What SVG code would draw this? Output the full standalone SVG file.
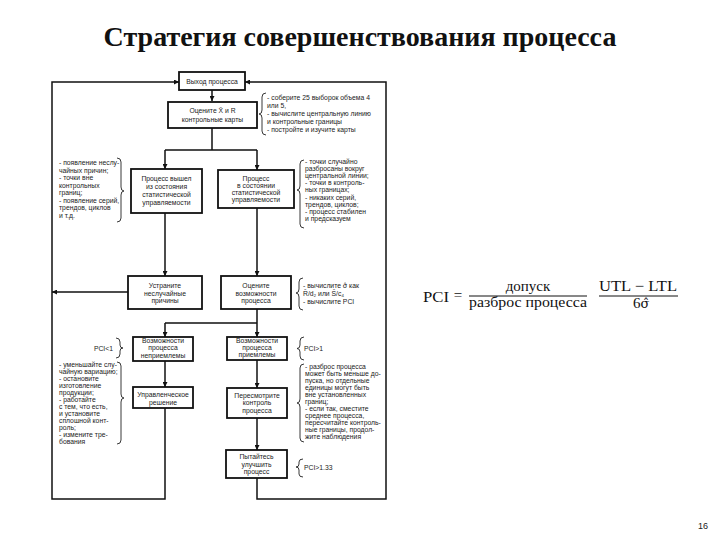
<svg xmlns="http://www.w3.org/2000/svg" width="720" height="540" viewBox="0 0 720 540">
<style>
.box{fill:#fff;stroke:#111;stroke-width:1.8}
.ln{fill:none;stroke:#111;stroke-width:1.5}
.br{fill:none;stroke:#222;stroke-width:0.9}
.t{font-family:"Liberation Sans",Arial,sans-serif;font-size:6.8px;fill:#222}
.c{text-anchor:middle}
.f{font-family:"Liberation Serif","Times New Roman",serif;font-size:15px;fill:#111}
</style>
<defs>
<marker id="ah" viewBox="0 0 10 10" refX="10" refY="5" markerWidth="5" markerHeight="5" orient="auto" markerUnits="userSpaceOnUse">
<path d="M0,0 L10,5 L0,10 z" fill="#111"/>
</marker>
</defs>
<rect width="720" height="540" fill="#fff"/>
<text x="360" y="46" text-anchor="middle" font-family="'Liberation Serif','Times New Roman',serif" font-size="28" font-weight="bold" fill="#111">Стратегия совершенствования процесса</text>

<g id="connectors">
<path class="ln" d="M212,90 V101" marker-end="url(#ah)"/>
<path class="ln" d="M212,128 V150 M165,150 H257"/>
<path class="ln" d="M165,150 V169" marker-end="url(#ah)"/>
<path class="ln" d="M257,150 V170" marker-end="url(#ah)"/>
<path class="ln" d="M165,213 V276" marker-end="url(#ah)"/>
<path class="ln" d="M257,208 V276" marker-end="url(#ah)"/>
<path class="ln" d="M128,292 H52" marker-end="url(#ah)"/>
<path class="ln" d="M257,309 V323 M165,323 H257"/>
<path class="ln" d="M165,323 V337" marker-end="url(#ah)"/>
<path class="ln" d="M257,323 V337" marker-end="url(#ah)"/>
<path class="ln" d="M165,361 V387" marker-end="url(#ah)"/>
<path class="ln" d="M257,360 V388" marker-end="url(#ah)"/>
<path class="ln" d="M257,418 V450" marker-end="url(#ah)"/>
<path class="ln" d="M165,408 V499 H52 V82 H179" marker-end="url(#ah)"/>
<path class="ln" d="M257,478 V499 H386 V82 H245" marker-end="url(#ah)"/>
</g>

<g id="n-vyhod">
<rect class="box" x="179" y="72" width="66" height="18"/>
<text class="t c" x="212" y="84">Выход процесса</text>
</g>
<g id="n-ocenite-karty">
<rect class="box" x="168" y="102" width="89" height="26"/>
<text class="t c" x="212.5" y="113">Оцените X̄ и R</text>
<text class="t c" x="212.5" y="121.5">контрольные карты</text>
</g>
<g id="n-vyshel">
<rect class="box" x="131" y="169" width="71" height="44"/>
<text class="t c" x="166.5" y="181.4">Процесс вышел</text>
<text class="t c" x="166.5" y="189.4">из состояния</text>
<text class="t c" x="166.5" y="197.2">статистической</text>
<text class="t c" x="166.5" y="204.8">управляемости</text>
</g>
<g id="n-v-sostoyanii">
<rect class="box" x="218" y="170" width="76" height="38"/>
<text class="t c" x="256" y="180.7">Процесс</text>
<text class="t c" x="256" y="188">в состоянии</text>
<text class="t c" x="256" y="195">статистической</text>
<text class="t c" x="256" y="202.4">управляемости</text>
</g>
<g id="n-ustranite">
<rect class="box" x="128" y="276" width="74" height="33"/>
<text class="t c" x="165" y="287.5">Устраните</text>
<text class="t c" x="165" y="295.5">неслучайные</text>
<text class="t c" x="165" y="303">причины</text>
</g>
<g id="n-ocenite-vozm">
<rect class="box" x="221" y="276" width="70" height="33"/>
<text class="t c" x="256" y="287.5">Оцените</text>
<text class="t c" x="256" y="295.5">возможности</text>
<text class="t c" x="256" y="303">процесса</text>
</g>
<g id="n-nepriemlemy">
<rect class="box" x="133" y="337" width="60" height="24"/>
<text class="t c" x="163" y="342.8">Возможности</text>
<text class="t c" x="163" y="350.3">процесса</text>
<text class="t c" x="163" y="357.6">неприемлемы</text>
</g>
<g id="n-priemlemy">
<rect class="box" x="227" y="337" width="60" height="23"/>
<text class="t c" x="257" y="342.5">Возможности</text>
<text class="t c" x="257" y="350">процесса</text>
<text class="t c" x="257" y="357.3">приемлемы</text>
</g>
<g id="n-upravl">
<rect class="box" x="133" y="387" width="60" height="21"/>
<text class="t c" x="163" y="397">Управленческое</text>
<text class="t c" x="163" y="404.5">решение</text>
</g>
<g id="n-peresmotrite">
<rect class="box" x="227" y="388" width="60" height="30"/>
<text class="t c" x="257" y="397.5">Пересмотрите</text>
<text class="t c" x="257" y="405">контроль</text>
<text class="t c" x="257" y="412.5">процесса</text>
</g>
<g id="n-pytaytes">
<rect class="box" x="226" y="450" width="61" height="28"/>
<text class="t c" x="256.5" y="459">Пытайтесь</text>
<text class="t c" x="256.5" y="466.5">улучшить</text>
<text class="t c" x="256.5" y="474">процесс</text>
</g>

<g id="ann-1">
<path class="br" d="M266,93 Q262,93 262,97 V110 Q262,114 259,114 Q262,114 262,118 V131 Q262,135 266,135"/>
<text class="t" x="267" y="100">- соберите 25 выборок объема 4</text>
<text class="t" x="267" y="108">или 5,</text>
<text class="t" x="267" y="116">- вычислите центральную линию</text>
<text class="t" x="267" y="124">и контрольные границы</text>
<text class="t" x="267" y="132">- постройте и изучите карты</text>
</g>
<g id="ann-2">
<path class="br" d="M117,158 Q121,158 121,162 V187 Q121,191 124,191 Q121,191 121,195 V218 Q121,222 117,222"/>
<text class="t" x="59" y="165">- появление неслу-</text>
<text class="t" x="59" y="172.5">чайных причин;</text>
<text class="t" x="59" y="180">- точки вне</text>
<text class="t" x="59" y="187.5">контрольных</text>
<text class="t" x="59" y="195">границ;</text>
<text class="t" x="59" y="202.5">- появление серий,</text>
<text class="t" x="59" y="210">трендов, циклов</text>
<text class="t" x="59" y="217.5">и т.д.</text>
</g>
<g id="ann-3">
<path class="br" d="M304,160 Q300,160 300,164 V186 Q300,190 297,190 Q300,190 300,194 V224 Q300,228 304,228"/>
<text class="t" x="305" y="163.5">- точки случайно</text>
<text class="t" x="305" y="170.7">разбросаны вокруг</text>
<text class="t" x="305" y="177.9">центральной линии;</text>
<text class="t" x="305" y="185.1">- точки в контроль-</text>
<text class="t" x="305" y="192.3">ных границах;</text>
<text class="t" x="305" y="199.5">- никаких серий,</text>
<text class="t" x="305" y="206.7">трендов, циклов;</text>
<text class="t" x="305" y="213.9">- процесс стабилен</text>
<text class="t" x="305" y="221.1">и предсказуем</text>
</g>
<g id="ann-4">
<path class="br" d="M303,278 Q299,278 299,282 V289 Q299,293 296,293 Q299,293 299,297 V306 Q299,310 303,310"/>
<text class="t" x="303" y="287.5">- вычислите <tspan font-family="'DejaVu Sans',sans-serif">σ̂</tspan> как</text>
<text class="t" x="303" y="295.5">R̄/d₂ или S̄/c₄</text>
<text class="t" x="303" y="304">- вычислите PCI</text>
</g>
<g id="ann-5">
<path class="br" d="M116,338 Q120,338 120,342 V345 Q120,348 123,348 Q120,348 120,351 V354 Q120,358 116,358"/>
<text class="t" x="113" y="350.5" text-anchor="end">PCI&lt;1</text>
</g>
<g id="ann-6">
<path class="br" d="M117,362 Q121,362 121,366 V394 Q121,398 124,398 Q121,398 121,402 V440 Q121,444 117,444"/>
<text class="t" x="59" y="367">- уменьшайте слу-</text>
<text class="t" x="59" y="374">чайную вариацию;</text>
<text class="t" x="59" y="381">- остановите</text>
<text class="t" x="59" y="388">изготовление</text>
<text class="t" x="59" y="395">продукции;</text>
<text class="t" x="59" y="402">- работайте</text>
<text class="t" x="59" y="409">с тем, что есть,</text>
<text class="t" x="59" y="416">и установите</text>
<text class="t" x="59" y="423">сплошной конт-</text>
<text class="t" x="59" y="430">роль;</text>
<text class="t" x="59" y="437">- измените тре-</text>
<text class="t" x="59" y="444">бования</text>
</g>
<g id="ann-7">
<path class="br" d="M304,337 Q300,337 300,341 V345 Q300,348.5 297,348.5 Q300,348.5 300,352 V356 Q300,360 304,360"/>
<text class="t" x="304" y="351">PCI&gt;1</text>
</g>
<g id="ann-8">
<path class="br" d="M304,364 Q300,364 300,368 V399 Q300,403 297,403 Q300,403 300,407 V438 Q300,442 304,442"/>
<text class="t" x="305" y="369">- разброс процесса</text>
<text class="t" x="305" y="376">может быть меньше до-</text>
<text class="t" x="305" y="383">пуска, но отдельные</text>
<text class="t" x="305" y="390">единицы могут быть</text>
<text class="t" x="305" y="397">вне установленных</text>
<text class="t" x="305" y="404">границ;</text>
<text class="t" x="305" y="411">- если так, сместите</text>
<text class="t" x="305" y="418">среднее процесса,</text>
<text class="t" x="305" y="425">пересчитайте контроль-</text>
<text class="t" x="305" y="432">ные границы, продол-</text>
<text class="t" x="305" y="439">жите наблюдения</text>
</g>
<g id="ann-9">
<path class="br" d="M303,459 Q299,459 299,462 V464 Q299,467 296,467 Q299,467 299,470 V474 Q299,477 303,477"/>
<text class="t" x="304" y="469.5">PCI&gt;1.33</text>
</g>

<g id="formula">
<text class="f" x="423" y="302" textLength="26" lengthAdjust="spacingAndGlyphs">PCI</text>
<text class="f" x="458" y="300" text-anchor="middle">=</text>
<text class="f" x="528" y="291" text-anchor="middle">допуск</text>
<line x1="469" y1="296" x2="587" y2="296" stroke="#111" stroke-width="1"/>
<text class="f" x="469" y="307" textLength="118" lengthAdjust="spacingAndGlyphs">разброс  процесса</text>
<text class="f" x="599" y="291" textLength="78" lengthAdjust="spacingAndGlyphs">UTL − LTL</text>
<line x1="599" y1="296" x2="678" y2="296" stroke="#111" stroke-width="1"/>
<text class="f" x="633" y="308">6<tspan font-family="'DejaVu Serif',serif" font-size="13">σ̂</tspan></text>
</g>

<text x="698" y="529" font-family="'Liberation Sans',Arial,sans-serif" font-size="9" fill="#222">16</text>
</svg>
